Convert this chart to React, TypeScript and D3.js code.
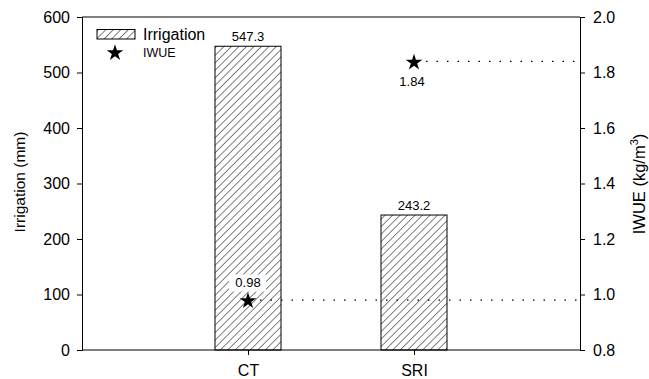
import React, { useEffect, useRef } from 'react';
import * as d3 from 'd3';

const categories = ['CT', 'SRI'];
const irrigation = [547.3, 243.2];
const iwue = [0.98, 1.84];
const leftTicks = [0, 100, 200, 300, 400, 500, 600];
const rightTicks = [0.8, 1.0, 1.2, 1.4, 1.6, 1.8, 2.0];

export default function App() {
  const svgRef = useRef<SVGSVGElement | null>(null);

  useEffect(() => {
    if (!svgRef.current) return;
    const width = 649;
    const height = 379;
    const left = 82, right = 580, top = 17, bottom = 350;
    const font = 'Liberation Sans, Arial, sans-serif';

    const svg = d3.select(svgRef.current);
    svg.selectAll('*').remove();
    svg.attr('width', width).attr('height', height);

    const defs = svg.append('defs');
    const pat = defs.append('pattern')
      .attr('id', 'hatch')
      .attr('patternUnits', 'userSpaceOnUse')
      .attr('width', 5.3)
      .attr('height', 5.3)
      .attr('patternTransform', 'rotate(45)');
    pat.append('rect').attr('width', 5.3).attr('height', 5.3).attr('fill', 'white');
    pat.append('line')
      .attr('x1', 0).attr('y1', 0).attr('x2', 0).attr('y2', 5.3)
      .attr('stroke', '#000').attr('stroke-width', 1);

    const x = d3.scalePoint<string>().domain(categories).range([left, right]).padding(1);
    const y = d3.scaleLinear().domain([0, 600]).range([bottom, top]);
    const y2 = d3.scaleLinear().domain([0.8, 2.0]).range([bottom, top]);
    const barW = 66;

    // bars
    svg.selectAll('rect.bar')
      .data(irrigation)
      .enter()
      .append('rect')
      .attr('class', 'bar')
      .attr('x', (d, i) => (x(categories[i]) as number) - barW / 2)
      .attr('y', d => y(d))
      .attr('width', barW)
      .attr('height', d => bottom - y(d))
      .attr('fill', 'url(#hatch)')
      .attr('stroke', '#000')
      .attr('stroke-width', 1);

    svg.selectAll('text.barlab')
      .data(irrigation)
      .enter()
      .append('text')
      .attr('x', (d, i) => x(categories[i]) as number)
      .attr('y', d => y(d) - 5)
      .attr('text-anchor', 'middle')
      .style('font-family', font)
      .style('font-size', '13px')
      .text(d => d.toFixed(1));

    // dotted lines for IWUE
    svg.selectAll('line.dot')
      .data(iwue)
      .enter()
      .append('line')
      .attr('x1', (d, i) => (x(categories[i]) as number) + 12)
      .attr('x2', right)
      .attr('y1', d => y2(d))
      .attr('y2', d => y2(d))
      .attr('stroke', '#000')
      .attr('stroke-width', 1.3)
      .attr('stroke-dasharray', '1.5,9');

    const star = d3.symbol().type(d3.symbolStar).size(85);
    svg.selectAll('path.star')
      .data(iwue)
      .enter()
      .append('path')
      .attr('d', star)
      .attr('transform', (d, i) => `translate(${x(categories[i])},${y2(d) + 1})`)
      .attr('fill', '#000');

    // IWUE labels: CT above with white box, SRI below
    iwue.forEach((d, i) => {
      const cx = (x(categories[i]) as number) - (i === 0 ? 0 : 2);
      const ty = i === 0 ? y2(d) - 13.5 : y2(d) + 25;
      if (i === 0) {
        svg.append('rect')
          .attr('x', cx - 19).attr('y', ty - 12)
          .attr('width', 37).attr('height', 17)
          .attr('fill', 'white');
      }
      svg.append('text')
        .attr('x', cx)
        .attr('y', ty)
        .attr('text-anchor', 'middle')
        .style('font-family', font)
        .style('font-size', '13px')
        .text(d.toFixed(2));
    });

    // frame
    svg.append('line').attr('x1', left).attr('x2', right).attr('y1', top).attr('y2', top).attr('stroke', '#000');
    svg.append('line').attr('x1', left).attr('x2', right).attr('y1', bottom).attr('y2', bottom).attr('stroke', '#000');

    const axL = svg.append('g')
      .attr('transform', `translate(${left},0)`)
      .call(d3.axisLeft(y).tickValues(leftTicks).tickSize(5).tickPadding(7).tickFormat(d3.format('d')));
    const axR = svg.append('g')
      .attr('transform', `translate(${right},0)`)
      .call(d3.axisRight(y2).tickValues(rightTicks).tickSize(5).tickPadding(8).tickFormat(d3.format('.1f')));
    const axB = svg.append('g')
      .attr('transform', `translate(0,${bottom})`)
      .call(d3.axisBottom(x).tickSize(5).tickPadding(10));
    [axL, axR, axB].forEach(g => {
      g.select('.domain').attr('stroke', '#000');
      g.selectAll('text').style('font-family', font).style('font-size', '16px').attr('fill', '#000');
    });
    axB.select('.domain').remove();

    // axis titles
    svg.append('text')
      .attr('transform', `translate(25,182) rotate(-90)`)
      .attr('text-anchor', 'middle')
      .style('font-family', font)
      .style('font-size', '15.5px')
      .text('Irrigation (mm)');
    const rt = svg.append('text')
      .attr('transform', `translate(645,184) rotate(-90)`)
      .attr('text-anchor', 'middle')
      .style('font-family', font)
      .style('font-size', '16.5px');
    rt.append('tspan').text('IWUE (kg/m');
    rt.append('tspan').attr('dy', -7).style('font-size', '11px').text('3');
    rt.append('tspan').attr('dy', 7).text(')');

    // legend
    svg.append('rect')
      .attr('x', 97).attr('y', 29.5).attr('width', 38).attr('height', 9.5)
      .attr('fill', 'url(#hatch)').attr('stroke', '#000');
    svg.append('text')
      .attr('x', 143).attr('y', 40)
      .style('font-family', font).style('font-size', '16px')
      .text('Irrigation');
    svg.append('path')
      .attr('d', star)
      .attr('transform', 'translate(115,53)')
      .attr('fill', '#000');
    svg.append('text')
      .attr('x', 143).attr('y', 57)
      .style('font-family', font).style('font-size', '12.5px')
      .text('IWUE');
  }, []);

  return <svg ref={svgRef} style={{ position: 'absolute', left: 0, top: 0 }}></svg>;
}
